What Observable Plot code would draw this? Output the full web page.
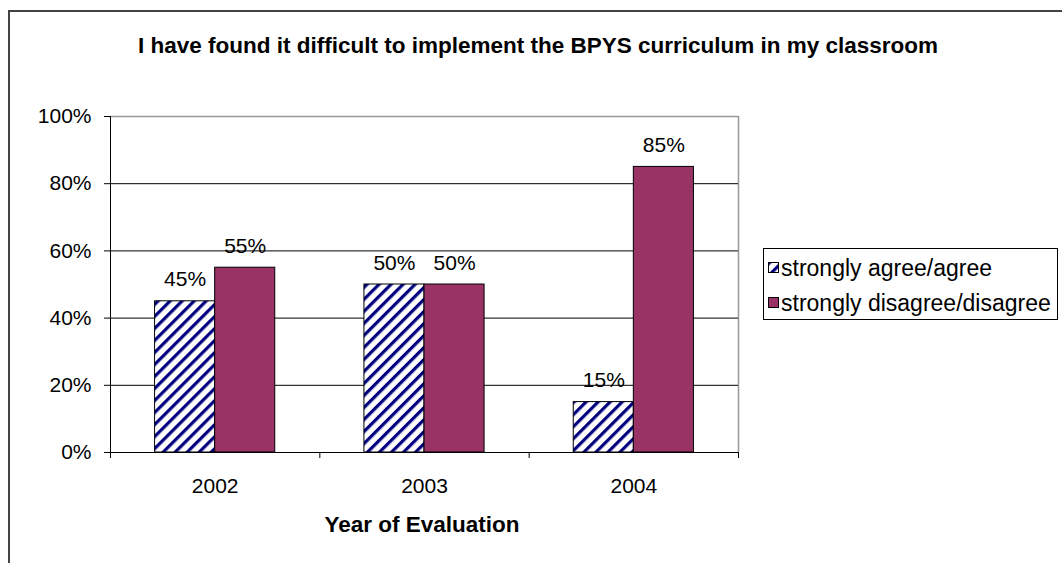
<!DOCTYPE html>
<html>
<head>
<meta charset="utf-8">
<script src="https://cdn.jsdelivr.net/npm/d3@7"></script>
<script src="https://cdn.jsdelivr.net/npm/@observablehq/plot@0.6"></script>
<style>
  body { margin: 0; background: #fff; font-family: "Liberation Sans", Arial, sans-serif; }
  #wrap { position: relative; width: 1062px; height: 563px; overflow: hidden; background: #fff; }
  #chart svg { position: absolute; left: 0; top: 0; }
  #border { position: absolute; left: 8px; top: 10px; width: 1200px; height: 700px;
            border-left: 2px solid #444; border-top: 2px solid #444; pointer-events: none; }
  #title { position: absolute; left: 0; width: 1076px; top: 35px; text-align: center;
           font-weight: bold; font-size: 22.5px; line-height: 22px; color: #000; white-space: nowrap; }
  #xtitle { position: absolute; left: 0; width: 844px; top: 514px; text-align: center;
            font-weight: bold; font-size: 22.5px; line-height: 22px; color: #000; white-space: nowrap; }
  #legend { position: absolute; left: 763px; top: 248px; width: 293px; height: 70px;
            border: 1px solid #000; background: #fff; }
  #legend .item { position: absolute; left: 4px; height: 36px; display: flex; align-items: center;
          font-size: 23px; color: #000; white-space: nowrap; }
  #legend .item svg { display: block; margin-right: 1px; flex: none; }
</style>
</head>
<body>
<div id="wrap">
  <div id="chart"></div>
  <div id="border"></div>
  <div id="title"></div>
  <div id="xtitle"></div>
  <div id="legend"></div>
</div>
<script>
// ---- data ----
const titleText = "I have found it difficult to implement the BPYS curriculum in my classroom";
const xTitle = "Year of Evaluation";
const years = [2002, 2003, 2004];
const seriesNames = ["strongly agree/agree", "strongly disagree/disagree"];
const agree = [45, 50, 15];
const disagree = [55, 50, 85];
const yTicks = [0, 20, 40, 60, 80, 100];
const gridTicks = [20, 40, 60, 80];

// ---- styling constants ----
const barW = 0.287;           // bar width in category units
const plum = "#993366";
const navy = "#000080";

const agreeRows = years.map((yr, i) => ({year: yr, series: seriesNames[0], value: agree[i], side: -1}));
const disagreeRows = years.map((yr, i) => ({year: yr, series: seriesNames[1], value: disagree[i], side: 1}));
const rows = agreeRows.concat(disagreeRows);
const xDomain = [years[0] - 0.5, years[years.length - 1] + 0.5];
const boundaries = [xDomain[0], ...years.map(y => y + 0.5)];

const x1 = d => d.side < 0 ? d.year - barW : d.year;
const x2 = d => d.side < 0 ? d.year : d.year + barW;

const chart = Plot.plot({
  width: 1062,
  height: 563,
  marginLeft: 110,
  marginRight: 324,
  marginTop: 116,
  marginBottom: 111,
  x: {type: "linear", domain: xDomain},
  y: {domain: [0, 100]},
  style: {fontFamily: "'Liberation Sans', Arial, sans-serif", fontSize: "21px", color: "#000", background: "transparent"},
  marks: [
    Plot.ruleY([100], {stroke: "#999", strokeWidth: 1.5}),
    Plot.ruleX([xDomain[1]], {stroke: "#999", strokeWidth: 1.5}),
    Plot.ruleY(gridTicks, {stroke: "#000"}),
    Plot.rectY(agreeRows, {x1, x2, y1: 0, y2: "value", fill: "url(#hatch)", stroke: "#000"}),
    Plot.rectY(disagreeRows, {x1, x2, y1: 0, y2: "value", fill: plum, stroke: "#000"}),
    Plot.ruleY([0], {stroke: "#000"}),
    Plot.ruleX([xDomain[0]], {stroke: "#000"}),
    Plot.axisY(yTicks, {tickSize: 6, tickPadding: 13, tickFormat: d => d + "%", label: null, fontSize: 21, stroke: "#000"}),
    Plot.axisX(boundaries, {tickSize: 6, tickFormat: () => "", label: null, stroke: "#000"}),
    Plot.axisX(years, {tickSize: 0, tickPadding: 26, tickFormat: d => String(d), label: null, fontSize: 21}),
    Plot.text(rows, {
      x: d => d.year + d.side * barW / 2,
      y: "value",
      text: d => d.value + "%",
      dy: -15,
      lineAnchor: "bottom",
      fontSize: 21,
      fill: "#000"
    })
  ]
});

const ns = "http://www.w3.org/2000/svg";
const defs = document.createElementNS(ns, "defs");
defs.innerHTML = `<pattern id="hatch" patternUnits="userSpaceOnUse" width="8.5" height="8.5" patternTransform="rotate(45)">
  <rect width="8.5" height="8.5" fill="#fff"></rect>
  <rect width="3.2" height="8.5" fill="${navy}"></rect>
</pattern>`;
chart.insertBefore(defs, chart.firstChild);
document.getElementById("chart").appendChild(chart);

document.getElementById("title").textContent = titleText;
document.getElementById("xtitle").textContent = xTitle;

const legend = document.getElementById("legend");
const swatchFills = ["url(#hatch)", plum];
seriesNames.forEach((name, i) => {
  const item = document.createElement("div");
  item.className = "item";
  item.style.top = (1 + i * 35) + "px";
  item.innerHTML = `<svg width="12" height="12"><rect x="0.5" y="0.5" width="10" height="10" fill="${swatchFills[i]}" stroke="#000"></rect></svg><span>${name}</span>`;
  legend.appendChild(item);
});
</script>
</body>
</html>
